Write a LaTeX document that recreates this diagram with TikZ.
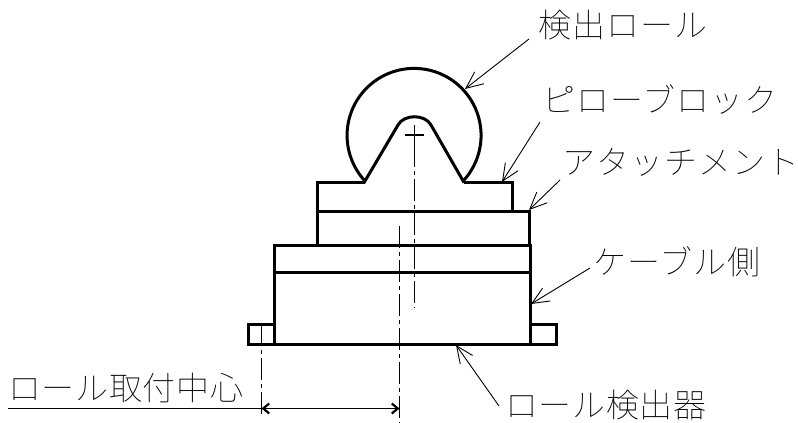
\documentclass[tikz,border=0pt]{standalone}
\usepackage{fontspec}
\usetikzlibrary{arrows.meta}
\newfontfamily\jpfont{Noto Sans CJK JP}[UprightFont={* Thin}]
\tikzset{
  x=1pt,y=-1pt,
  heavy/.style={line width=3pt,line join=miter},
  center/.style={line width=0.9pt,dash pattern=on 22pt off 4pt on 4pt off 4pt},
  leader/.style={line width=0.9pt,-{Straight Barb[length=17pt,width=15pt,line width=0.9pt]}},
  dimarrow/.style={line width=1.2pt,{Straight Barb[length=6pt,width=10pt,line width=2.2pt]}-{Straight Barb[length=6pt,width=10pt,line width=2.2pt]}},
  lbl/.style={font=\fontsize{33}{33}\selectfont\jpfont,anchor=west,inner sep=0pt,text=black}
}
\begin{document}
\begin{tikzpicture}
\useasboundingbox (0,0) rectangle (798,423);
% labels
\node[lbl] (roll) at (538,25) {\addfontfeature{LetterSpace=3}検出ロール};
\node[lbl] (pillow) at (542,99) {\addfontfeature{LetterSpace=3}ピローブロック};
\node[lbl] (attach) at (562,162) {\addfontfeature{LetterSpace=3}アタッチメント};
\node[lbl] (cable) at (593,262) {\addfontfeature{LetterSpace=3}ケーブル側};
\node[lbl] (detector) at (505,405) {\addfontfeature{LetterSpace=2}ロール検出器};
\node[lbl] (rollcenter) at (8,388) {\addfontfeature{LetterSpace=2}ロール取付中心};
% roll
\draw[heavy] (365,181) arc[start angle=137.1,delta angle=265.8,radius=67] -- (431,125)
  .. controls (425,114) and (404,114) .. (398,125) -- cycle;
% body
\draw[heavy] (317,211) -- (317,182) -- (365,182);
\draw[heavy] (464,182) -- (512,182) -- (512,211);
\draw[heavy] (317,245) -- (317,211) -- (529,211) -- (529,245);
\draw[heavy] (274,245) rectangle (530,344);
\draw[heavy] (274,272) -- (530,272);
\draw[heavy] (274,324) -- (248,324) -- (248,344) -- (274,344);
\draw[heavy] (530,324) -- (556,324) -- (556,344) -- (530,344);
% centre lines
\coordinate (c1a) at (414.5,125); \coordinate (c1b) at (414.5,308);
\draw[line width=1.6pt] (405,135) -- (424,135);
\draw[line width=1.6pt] (414.5,125) -- (414.5,145);
\draw[center] (414.5,145) -- (c1b);
\coordinate (c2a) at (399.5,226); \coordinate (c2b) at (399.5,423);
\draw[center] (c2a) -- (c2b);
\coordinate (c3a) at (261.5,324); \coordinate (c3b) at (261.5,417);
\draw[center] (c3a) -- (c3b);
% dimension
\coordinate (da) at (261.5,408.5); \coordinate (db) at (399.5,408.5); \coordinate (dl) at (8,408.5);
\draw[line width=1.1pt] (dl) -- (da);
\draw[dimarrow] (da) -- (db);
% leaders
\coordinate (t1) at (465,89); \coordinate (t2) at (502,182); \coordinate (t3) at (529,210);
\coordinate (t4) at (531,304); \coordinate (t5) at (456,345);
\draw[leader] (529,39) -- (t1);
\draw[leader] (540,122) -- (t2);
\draw[leader] (560,180) -- (t3);
\draw[leader] (590,268) -- (t4);
\draw[leader] (499,406) -- (t5);
\end{tikzpicture}
\end{document}
